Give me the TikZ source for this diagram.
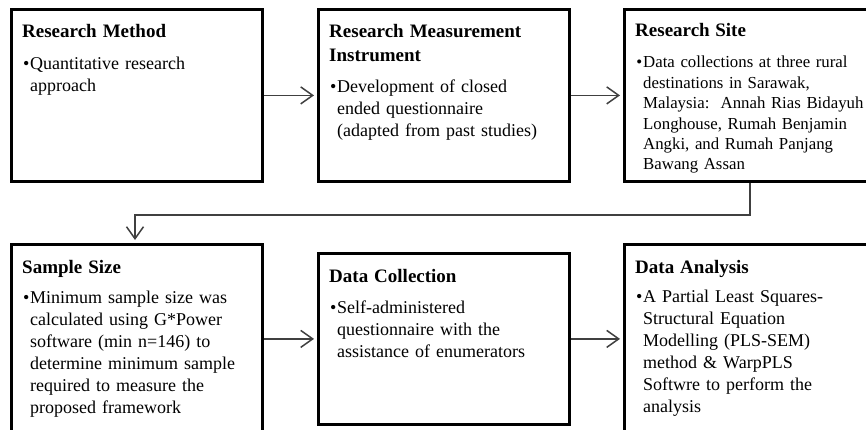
\documentclass[tikz,border=0pt]{standalone}
\usepackage{fontspec}
\setmainfont{Liberation Serif}
\usetikzlibrary{arrows.meta}
\newcommand{\bul}[1]{\noindent\makebox[8pt][c]{•}\parbox[t]{250pt}{#1}}
\begin{document}
\begin{tikzpicture}[x=1pt,y=-1pt,
  boxframe/.style={draw=black, line width=2.8pt, rectangle, inner sep=0pt, anchor=north west},
  boxtext/.style={anchor=base west, inner sep=0pt, text width=260pt, font=\fontsize{18}{22}\selectfont},
  smalltext/.style={boxtext, font=\fontsize{16.8}{20.4}\selectfont},
  ttl/.style={},
  conn/.style={draw=black!75, line width=1.5pt, -{Straight Barb[length=12pt,width=17pt]}, shorten >=3pt},
]
\useasboundingbox (0,0) rectangle (866,430);
\fill[white] (0,0) rectangle (866,430);
\clip (0,0) rectangle (866,430);

% frames
\node[boxframe, minimum width=251pt, minimum height=172pt] (b1) at (10,8) {};
\node[boxframe, minimum width=251pt, minimum height=172pt] (b2) at (317,8) {};
\node[boxframe, minimum width=246pt, minimum height=172pt] (b3) at (623,8) {};
\node[boxframe, minimum width=251pt, minimum height=188pt] (b4) at (10,243) {};
\node[boxframe, minimum width=251pt, minimum height=171pt] (b5) at (317,252) {};
\node[boxframe, minimum width=246pt, minimum height=188pt] (b6) at (623,243) {};

% texts
\node[boxtext] (t1) at ([shift={(12,30)}]b1.north west)
  {{\fontsize{19}{22}\selectfont\bfseries Research Method\par}\vspace{10pt}
   \bul{Quantitative research\\approach}};
\node[boxtext] (t2) at ([shift={(12,30)}]b2.north west)
  {{\fontsize{19}{24}\selectfont\bfseries Research Measurement\\Instrument\par}\vspace{9pt}
   \bul{Development of closed\\ended questionnaire\\(adapted from past studies)}};
\node[smalltext] (t3) at ([shift={(12,29)}]b3.north west)
  {{\fontsize{19}{22}\selectfont\bfseries Research Site\par}\vspace{10.5pt}
   \bul{Data collections at three rural\\destinations in Sarawak,\\Malaysia:\ \ Annah Rias Bidayuh\\Longhouse, Rumah Benjamin\\Angki, and Rumah Panjang\\Bawang Assan}};
\node[boxtext] (t4) at ([shift={(12,30)}]b4.north west)
  {{\fontsize{19}{22}\selectfont\bfseries Sample Size\par}\vspace{8pt}
   \bul{Minimum sample size was\\calculated using G*Power\\software (min n=146) to\\determine minimum sample\\required to measure the\\proposed framework}};
\node[boxtext] (t5) at ([shift={(12,30)}]b5.north west)
  {{\fontsize{19}{22}\selectfont\bfseries Data Collection\par}\vspace{9pt}
   \bul{Self-administered\\questionnaire with the\\assistance of enumerators}};
\node[boxtext] (t6) at ([shift={(12,30)}]b6.north west)
  {{\fontsize{19}{22}\selectfont\bfseries Data Analysis\par}\vspace{7pt}
   \bul{A Partial Least Squares-\\Structural Equation\\Modelling (PLS-SEM)\\method \& WarpPLS\\Softwre to perform the\\analysis}};

% connectors
\draw[conn] (b1.east) -- (b2.west);
\draw[conn] (b2.east) -- (b3.west |- b2.east);
\draw[conn] ([xshift=127pt]b3.south west) -- ++(0,32) -| ([xshift=125pt]b4.north west);
\draw[conn] (b4.east |- b5.west) -- (b5.west);
\draw[conn] (b5.east) -- (b6.west |- b5.east);
\end{tikzpicture}
\end{document}
